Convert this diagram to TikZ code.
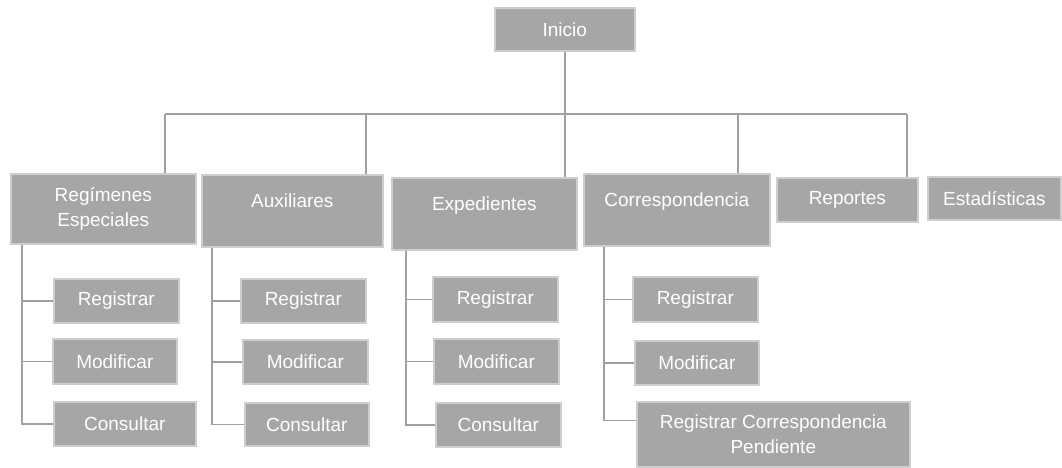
\documentclass[tikz,border=0pt]{standalone}
\usepackage{fontspec}
\setmainfont{Liberation Sans}
\usetikzlibrary{calc}

\definecolor{cajagris}{RGB}{166,166,166}
\definecolor{bordegris}{RGB}{206,206,206}
\definecolor{lineagris}{RGB}{160,160,160}

\begin{document}
\begin{tikzpicture}[
    caja/.style={
        draw=bordegris, line width=1.6pt, fill=cajagris,
        text=white, font=\fontsize{19}{25}\selectfont,
        inner sep=0pt, anchor=north west, align=center
    },
    modulo/.style={caja, text height=33pt, text depth=39pt},
    linea/.style={draw=lineagris, line width=1.4pt},
x=1pt, y=-1pt]

    \useasboundingbox (0,0) rectangle (1062,468);

    \node[caja, minimum width=140, minimum height=43] (inicio) at (494,7) {Inicio};

    \node[caja, minimum width=185, minimum height=70] (regimenes) at (10,173) {Regímenes\\Especiales};
    \node[modulo, minimum width=181] (auxiliares) at (201,174) {Auxiliares};
    \node[modulo, minimum width=185] (expedientes) at (391,177) {Expedientes};
    \node[modulo, minimum width=186] (correspondencia) at (583,173) {Correspondencia};
    \node[caja, minimum width=141, minimum height=44] (reportes) at (776,177) {Reportes};
    \node[caja, minimum width=133, minimum height=43] (estadisticas) at (927,176) {Estadísticas};

    \node[caja, minimum width=125, minimum height=44] (reg1) at (53,278) {Registrar};
    \node[caja, minimum width=124, minimum height=45] (mod1) at (52,338) {Modificar};
    \node[caja, minimum width=142, minimum height=44] (con1) at (53,401) {Consultar};

    \node[caja, minimum width=125, minimum height=44] (reg2) at (240,278) {Registrar};
    \node[caja, minimum width=125, minimum height=44] (mod2) at (242,339) {Modificar};
    \node[caja, minimum width=124, minimum height=43] (con2) at (244,402) {Consultar};

    \node[caja, minimum width=125, minimum height=45] (reg3) at (432,276) {Registrar};
    \node[caja, minimum width=125, minimum height=45] (mod3) at (433,338) {Modificar};
    \node[caja, minimum width=125, minimum height=44] (con3) at (435,402) {Consultar};

    \node[caja, minimum width=125, minimum height=45] (reg4) at (632,276) {Registrar};
    \node[caja, minimum width=124, minimum height=44] (mod4) at (634,340) {Modificar};
    \node[caja, minimum width=273, minimum height=65] (pend4) at (636,401) {Registrar Correspondencia\\Pendiente};

    \coordinate (bus1) at (165,114);
    \coordinate (bus2) at (366,114);
    \coordinate (bus4) at (738,114);
    \coordinate (bus5) at (907,114);

    \draw[linea] (inicio.south) -- (inicio.south |- expedientes.north);
    \draw[linea] (bus1) -- (bus5);
    \draw[linea] (bus1) -- (bus1 |- regimenes.north);
    \draw[linea] (bus2) -- (bus2 |- auxiliares.north);
    \draw[linea] (bus4) -- (bus4 |- correspondencia.north);
    \draw[linea] (bus5) -- (bus5 |- reportes.north);

    \coordinate (eje1) at (22,0);
    \coordinate (eje2) at (212,0);
    \coordinate (eje3) at (406,0);
    \coordinate (eje4) at (604,0);
    \coordinate (pend4w) at ($(pend4.north west)!0.29!(pend4.south west)$);

    \draw[linea] (eje1 |- regimenes.south) |- (con1.west);
    \draw[linea] (eje1 |- reg1.west) -- (reg1.west);
    \draw[linea] (eje1 |- mod1.west) -- (mod1.west);

    \draw[linea] (eje2 |- auxiliares.south) |- (con2.west);
    \draw[linea] (eje2 |- reg2.west) -- (reg2.west);
    \draw[linea] (eje2 |- mod2.west) -- (mod2.west);

    \draw[linea] (eje3 |- expedientes.south) |- (con3.west);
    \draw[linea] (eje3 |- reg3.west) -- (reg3.west);
    \draw[linea] (eje3 |- mod3.west) -- (mod3.west);

    \draw[linea] (eje4 |- correspondencia.south) |- (pend4w);
    \draw[linea] (eje4 |- reg4.west) -- (reg4.west);
    \draw[linea] (eje4 |- mod4.west) -- (mod4.west);

\end{tikzpicture}
\end{document}
